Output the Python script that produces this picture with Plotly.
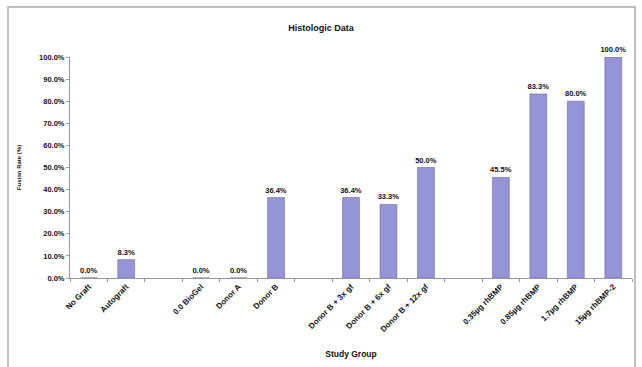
import plotly.graph_objects as go

categories = ["No Graft", "Autograft", " ", "0.0 BioGel", "Donor A", "Donor B", "  ",
              "Donor B + 3x gf", "Donor B + 6x gf", "Donor B + 12x gf", "   ",
              "0.35µg rhBMP", "0.85µg rhBMP", "1.7µg rhBMP", "15µg rhBMP-2"]
fusion_rate = [0.0, 0.083, None, 0.0, 0.0, 0.364, None,
               0.364, 0.333, 0.50, None,
               0.455, 0.833, 0.80, 1.00]

xs = [c for c, v in zip(categories, fusion_rate) if v is not None]
ys = [v for v in fusion_rate if v is not None]

FONT = "Liberation Sans, Arial, sans-serif"
lab_font = dict(family=FONT, size=7.5, color="#111111", weight="bold")

fig = go.Figure(go.Bar(
    x=xs, y=ys,
    marker=dict(color="#9494d6", line=dict(color="#6a6aa8", width=0.6)),
    width=0.45,
    text=[f"{v*100:.1f}%" for v in ys],
    textposition="outside",
    textfont=lab_font, outsidetextfont=lab_font, insidetextfont=lab_font,
    constraintext="none",
    cliponaxis=False,
))

fig.update_layout(
    width=642, height=367,
    margin=dict(l=70, r=10, t=57, b=89),
    paper_bgcolor="white", plot_bgcolor="white",
    showlegend=False,
    bargap=0.55,
    title=dict(text="Histologic Data", x=0.5, xanchor="center", y=1 - 28/367, yanchor="middle",
               font=dict(family=FONT, size=9, color="#111", weight="bold")),
    font=dict(family=FONT, color="#111"),
)

fig.update_xaxes(
    type="category", categoryorder="array", categoryarray=categories,
    range=[-0.5, len(categories) - 0.5],
    showline=True, linecolor="#999", linewidth=1,
    ticks="outside", tickson="boundaries", ticklen=3, tickcolor="#999",
    tickangle=-45,
    tickfont=dict(family=FONT, size=8, color="#111", weight="bold"),
    showgrid=False,
    title=dict(text="Study Group", font=dict(family=FONT, size=8.5, color="#111", weight="bold"), standoff=18),
)
fig.update_yaxes(
    range=[0, 1.0], dtick=0.1, tickformat=".1%",
    showline=True, linecolor="#999", linewidth=1,
    ticks="outside", ticklen=3, tickcolor="#999",
    tickfont=dict(family=FONT, size=7.5, color="#111", weight="bold"),
    showgrid=False, zeroline=False,
    title=dict(text="Fusion Rate (%)", font=dict(family=FONT, size=6, color="#111", weight="bold"), standoff=16),
)

# outer chart border (Excel chart area)
x0 = (8 - 70) / 562
x1 = (635 - 70) / 562
ytop = (278 - 7) / 221
ybot = (278 - 372) / 221
fig.add_shape(type="rect", xref="paper", yref="paper", x0=x0, x1=x1, y0=ybot, y1=ytop,
              line=dict(color="#aaa", width=1.5), fillcolor="rgba(0,0,0,0)", layer="below")

fig.write_html("out.html")
